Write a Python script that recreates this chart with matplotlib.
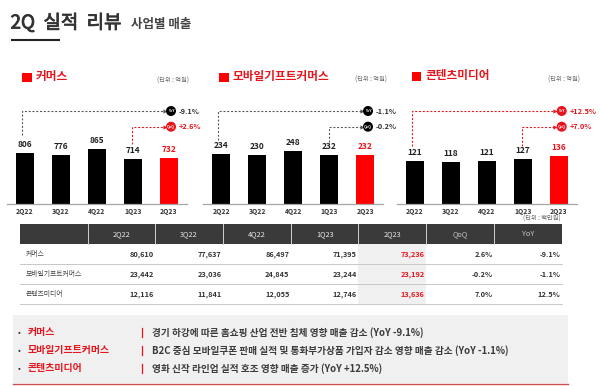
import matplotlib
matplotlib.use('Agg')
import matplotlib.pyplot as plt
import matplotlib.patheffects as pe
from matplotlib.patches import Rectangle, Circle

plt.rcParams['font.family'] = ['Noto Sans CJK KR', 'DejaVu Sans']

W, H = 600, 386
RED = '#e8141c'
BAR_RED = '#ff0000'
DARK = '#3a3a3a'

quarters = ['2Q22', '3Q22', '4Q22', '1Q23', '2Q23']
segments = ['커머스', '모바일기프트커머스', '콘텐츠미디어']

commerce = [806, 776, 865, 714, 732]
mobile = [234, 230, 248, 232, 232]
content = [121, 118, 121, 127, 136]

yoy_labels = ['-9.1%', '-1.1%', '+12.5%']
qoq_labels = ['+2.6%', '-0.2%', '+7.0%']

table_columns = ['', '2Q22', '3Q22', '4Q22', '1Q23', '2Q23', 'QoQ', 'YoY']
table_commerce = ['80,610', '77,637', '86,497', '71,395', '73,236', '2.6%', '-9.1%']
table_mobile = ['23,442', '23,036', '24,845', '23,244', '23,192', '-0.2%', '-1.1%']
table_content = ['12,116', '11,841', '12,055', '12,746', '13,636', '7.0%', '12.5%']

notes = ['경기 하강에 따른 홈쇼핑 산업 전반 침체 영향 매출 감소 (YoY -9.1%)',
         'B2C 중심 모바일쿠폰 판매 실적 및 통화부가상품 가입자 감소 영향 매출 감소 (YoY -1.1%)',
         '영화 신작 라인업 실적 호조 영향 매출 증가 (YoY +12.5%)']

fig = plt.figure(figsize=(W / 100, H / 100), dpi=100)

# background axes in pixel coords, for everything that is not a bar
bg = fig.add_axes([0, 0, 1, 1])
bg.set_xlim(0, W)
bg.set_ylim(H, 0)
bg.axis('off')

# header
bg.text(10.5, 23, '2Q  실적  리뷰', fontsize=13.6, color='#333333', va='center',
        path_effects=[pe.withStroke(linewidth=0.6, foreground='#333333')])
bg.text(131, 24.5, '사업별 매출', fontsize=9, color='#444444', weight='bold', va='center')
bg.plot([11, 60], [40, 40], color='#222222', lw=1.5, solid_capstyle='butt')

# one bar chart per segment
charts = [
    dict(vals=commerce, left=6.7, base=204, scale=0.0632, head=22, head_y=77, unit_x=189, unit_y=80.5,
         yoy_x=171, yoy_line=22, yoy_from=135, yoy_col='#555555',
         qoq_line=132.3, qoq_from=144, qoq_col=RED),
    dict(vals=mobile, left=203.3, base=203.5, scale=0.2107, head=219, head_y=77, unit_x=387, unit_y=80,
         yoy_x=368, yoy_line=218.3, yoy_from=140, yoy_col='#555555',
         qoq_line=329.3, qoq_from=142, qoq_col='#555555'),
    dict(vals=content, left=396.7, base=203.5, scale=0.352, head=411.5, head_y=76.5, unit_x=580, unit_y=80,
         yoy_x=561.7, yoy_line=411.7, yoy_from=146, yoy_col=RED,
         qoq_line=522.3, qoq_from=146, qoq_col=RED),
]

for n, c in enumerate(charts):
    height = 90
    ax = fig.add_axes([c['left'] / W, 1 - c['base'] / H, 180 / W, height / H])
    ax.set_xlim(-0.5, 4.5)
    ax.set_ylim(0, height / c['scale'])
    cols = ['black'] * 4 + [BAR_RED]
    ax.bar(range(5), c['vals'], width=0.5, color=cols)
    ax.patch.set_alpha(0)
    for s in ['top', 'left', 'right']:
        ax.spines[s].set_visible(False)
    ax.spines['bottom'].set_color('#a6a6a6')
    ax.spines['bottom'].set_linewidth(0.9)
    ax.set_yticks([])
    ax.set_xticks(range(5))
    ax.set_xticklabels(quarters, fontsize=4.9, weight='bold', color='#333333')
    ax.tick_params(axis='x', length=0, pad=3.2)
    for i, v in enumerate(c['vals']):
        ax.annotate(str(v), (i, v), xytext=(0, 6.1), textcoords='offset points', ha='center', va='center',
                    fontsize=6, weight='bold', color=RED if i == 4 else '#222222')

    # heading and unit
    bg.add_patch(Rectangle((c['head'], c['head_y'] - 4.5), 9.5, 9, color=BAR_RED, lw=0))
    bg.text(c['head'] + 14, c['head_y'] - 0.5, segments[n], fontsize=8.4, weight='bold', color=RED, va='center')
    bg.text(c['unit_x'], c['unit_y'], '(단위 : 억원)', fontsize=4.5, color='#666666', ha='right', va='center')

    # YoY / QoQ connectors
    rows = [('YoY', 111, c['yoy_line'], c['yoy_from'], c['yoy_col'], yoy_labels[n]),
            ('QoQ', 126.7, c['qoq_line'], c['qoq_from'], c['qoq_col'], qoq_labels[n])]
    for name, y, xl, y0, col, lab in rows:
        xc = c['yoy_x']
        bg.plot([xl, xl, xc - 7], [y0, y, y], color=col, lw=0.8, ls=(0, (1.8, 1.6)), zorder=2)
        bg.plot([xc - 6.5], [y], marker='>', ms=3, color=col, mew=0, zorder=3)
        circ_col = RED if col == RED else 'black'
        bg.add_patch(Circle((xc, y), 5, color=circ_col, lw=0, zorder=3))
        bg.text(xc, y, name, fontsize=2.6, color='white', weight='bold', ha='center', va='center', zorder=4)
        bg.text(xc + 8, y + 0.2, lab, fontsize=5.3, weight='bold', color=RED if col == RED else '#333333',
                va='center', zorder=4)

# table
col_x = [20, 87.7, 155.3, 223, 291, 358.3, 426, 494, 561.7]
top, head_bot = 224.3, 244.3
row_lines = [264.3, 284.3, 304.3]
bg.add_patch(Rectangle((col_x[0], top), col_x[-1] - col_x[0], head_bot - top, color=DARK, lw=0))
bg.add_patch(Rectangle((col_x[5], head_bot), col_x[6] - col_x[5], row_lines[-1] - head_bot, color='#f0f0f0', lw=0))
for x in col_x[1:-1]:
    bg.plot([x, x], [top, head_bot], color='#d0d0d0', lw=0.7)
for i, name in enumerate(table_columns):
    if name:
        col = '#c4c4c4' if name in ('QoQ', 'YoY') else '#e6e6e6'
        bg.text((col_x[i] + col_x[i + 1]) / 2, (top + head_bot) / 2, name, fontsize=5.3, color=col,
                ha='center', va='center')
bg.text(561, 218.5, '(단위 : 백만원)', fontsize=4.5, color='#666666', ha='right', va='center')

for r, row in enumerate([table_commerce, table_mobile, table_content]):
    y = row_lines[r] - 10
    bg.text(26, y, segments[r], fontsize=4.9, color='#444444', va='center')
    for j, v in enumerate(row):
        col = RED if j == 4 else '#333333'
        bg.text(col_x[j + 2] - 1.5, y, v, fontsize=5.3, weight='bold', color=col, ha='right', va='center')
    bg.plot([col_x[0], col_x[-1]], [row_lines[r], row_lines[r]], color='#c8c8c8', lw=0.7)

# bottom notes box
bg.add_patch(Rectangle((13, 315), 554.5, 68, color='#f0f0f0', lw=0))
bg.plot([13, 567.5], [383.5, 383.5], color='#c8504f', lw=1)
for r, note in enumerate(notes):
    y = 332.3 + 18 * r
    bg.text(19, y, '•', fontsize=6, color='#333333', ha='center', va='center')
    bg.text(28, y, segments[r], fontsize=7.1, weight='bold', color=RED, va='center')
    bg.plot([141.5, 141.5], [y - 4, y + 5], color=RED, lw=0.9)
    bg.text(152.5, y, note, fontsize=6.95, weight='bold', color='#3c3c3c', va='center')

fig.savefig('out.png', dpi=100)
